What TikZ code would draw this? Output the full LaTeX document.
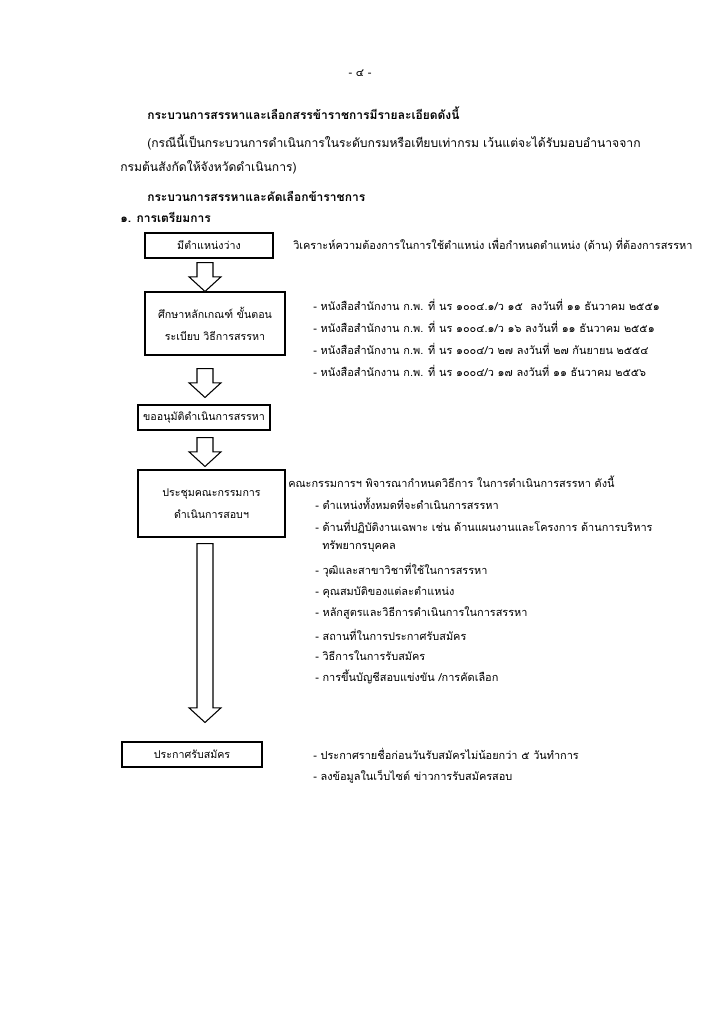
\documentclass[tikz,border=0pt]{standalone}
\usepackage{fontspec}
\newfontfamily\thaifont[Script=Thai]{Loma}
\usetikzlibrary{calc}
\tikzset{
    stepbox/.style={draw, line width=0.8pt, align=center, inner sep=0pt,
                    font=\thaifont\fontsize{8}{16.5}\selectfont},
    note/.style={anchor=west, inner sep=0pt,
                 font=\thaifont\fontsize{8.2}{12}\selectfont},
    wide/.style={note, font=\thaifont\fontsize{9.1}{12}\selectfont},
    headline/.style={note, font=\thaifont\bfseries\fontsize{9}{12}\selectfont},
    blockarrow/.style n args={2}{draw, line width=0.8pt, fill=white,
        to path={let \p1=(\tikztostart), \p2=(\tikztotarget) in
            (\x1-6pt,\y1-#1) -- (\x1+6pt,\y1-#1) -- (\x1+6pt,\y2+#2+11pt)
            -- (\x1+12pt,\y2+#2+11pt) -- (\x1,\y2+#2)
            -- (\x1-12pt,\y2+#2+11pt) -- (\x1-6pt,\y2+#2+11pt) -- cycle}},
}
\begin{document}
\begin{tikzpicture}[x=0.75pt, y=-0.75pt]
    \useasboundingbox[fill=white] (0,0) rectangle (723,1024);
    % page header
    \node[note, anchor=center] (page) at (360,73) {- ๔ -};
    \node[headline] (title) at (147,113) {กระบวนการสรรหาและเลือกสรรข้าราชการมีรายละเอียดดังนี้};
    \node[wide] (scope1) at (147,142) {(กรณีนี้เป็นกระบวนการดำเนินการในระดับกรมหรือเทียบเท่ากรม เว้นแต่จะได้รับมอบอำนาจจาก};
    \node[wide] (scope2) at (120,167) {กรมต้นสังกัดให้จังหวัดดำเนินการ)};
    \node[headline] (process) at (147,196) {กระบวนการสรรหาและคัดเลือกข้าราชการ};
    \node[headline] (prep) at (120,217) {๑. การเตรียมการ};
    % flow boxes
    \coordinate (axis) at (205,0);
    \node[stepbox, minimum width=96pt, minimum height=18.75pt] (vacant) at (209,245.5) {มีตำแหน่งว่าง};
    \node[stepbox, minimum width=105pt, minimum height=47.25pt] (study) at (215,323.5)
        {ศึกษาหลักเกณฑ์ ขั้นตอน\\ระเบียบ วิธีการสรรหา};
    \node[stepbox, minimum width=99pt, minimum height=18.75pt] (approve) at (204,417.5) {ขออนุมัติดำเนินการสรรหา};
    \node[stepbox, minimum width=110.25pt, minimum height=50.25pt] (meeting) at (211.5,503.5)
        {ประชุมคณะกรรมการ\\ดำเนินการสอบฯ};
    \node[stepbox, minimum width=105pt, minimum height=18.75pt] (announce) at (192,754.5) {ประกาศรับสมัคร};
    \draw[blockarrow={3pt}{0pt}] (vacant.south -| axis) to (study.north -| axis);
    \draw[blockarrow={9.75pt}{5.25pt}] (study.south -| axis) to (approve.north -| axis);
    \draw[blockarrow={5.25pt}{2.25pt}] (approve.south -| axis) to (meeting.north -| axis);
    \draw[blockarrow={4.5pt}{14.25pt}] (meeting.south -| axis) to (announce.north -| axis);
    % notes beside the boxes
    \node[note] (need) at (293,245) {วิเคราะห์ความต้องการในการใช้ตำแหน่ง เพื่อกำหนดตำแหน่ง (ด้าน) ที่ต้องการสรรหา};
    \node[note] (ref1) at (313,305) {- หนังสือสำนักงาน ก.พ. ที่ นร ๑๐๐๔.๑/ว ๑๕\ \ ลงวันที่ ๑๑ ธันวาคม ๒๕๕๑};
    \node[note] (ref2) at (313,327) {- หนังสือสำนักงาน ก.พ. ที่ นร ๑๐๐๔.๑/ว ๑๖ ลงวันที่ ๑๑ ธันวาคม ๒๕๕๑};
    \node[note] (ref3) at (313,349) {- หนังสือสำนักงาน ก.พ. ที่ นร ๑๐๐๔/ว ๒๗ ลงวันที่ ๒๗ กันยายน ๒๕๕๔};
    \node[note] (ref4) at (313,371) {- หนังสือสำนักงาน ก.พ. ที่ นร ๑๐๐๔/ว ๑๗ ลงวันที่ ๑๑ ธันวาคม ๒๕๕๖};
    \node[note] (board) at (288,482) {คณะกรรมการฯ พิจารณากำหนดวิธีการ ในการดำเนินการสรรหา ดังนี้};
    \node[note] (item1) at (315,504) {- ตำแหน่งทั้งหมดที่จะดำเนินการสรรหา};
    \node[note] (item2) at (315,527) {- ด้านที่ปฏิบัติงานเฉพาะ เช่น ด้านแผนงานและโครงการ ด้านการบริหาร};
    \node[note] (item2b) at (322,547) {ทรัพยากรบุคคล};
    \node[note] (item3) at (315,570) {- วุฒิและสาขาวิชาที่ใช้ในการสรรหา};
    \node[note] (item4) at (315,592) {- คุณสมบัติของแต่ละตำแหน่ง};
    \node[note] (item5) at (315,613) {- หลักสูตรและวิธีการดำเนินการในการสรรหา};
    \node[note] (item6) at (315,635) {- สถานที่ในการประกาศรับสมัคร};
    \node[note] (item7) at (315,656) {- วิธีการในการรับสมัคร};
    \node[note] (item8) at (315,677) {- การขึ้นบัญชีสอบแข่งขัน /การคัดเลือก};
    \node[note] (post1) at (313,754) {- ประกาศรายชื่อก่อนวันรับสมัครไม่น้อยกว่า ๕ วันทำการ};
    \node[note] (post2) at (313,777) {- ลงข้อมูลในเว็บไซต์ ข่าวการรับสมัครสอบ};
\end{tikzpicture}
\end{document}
